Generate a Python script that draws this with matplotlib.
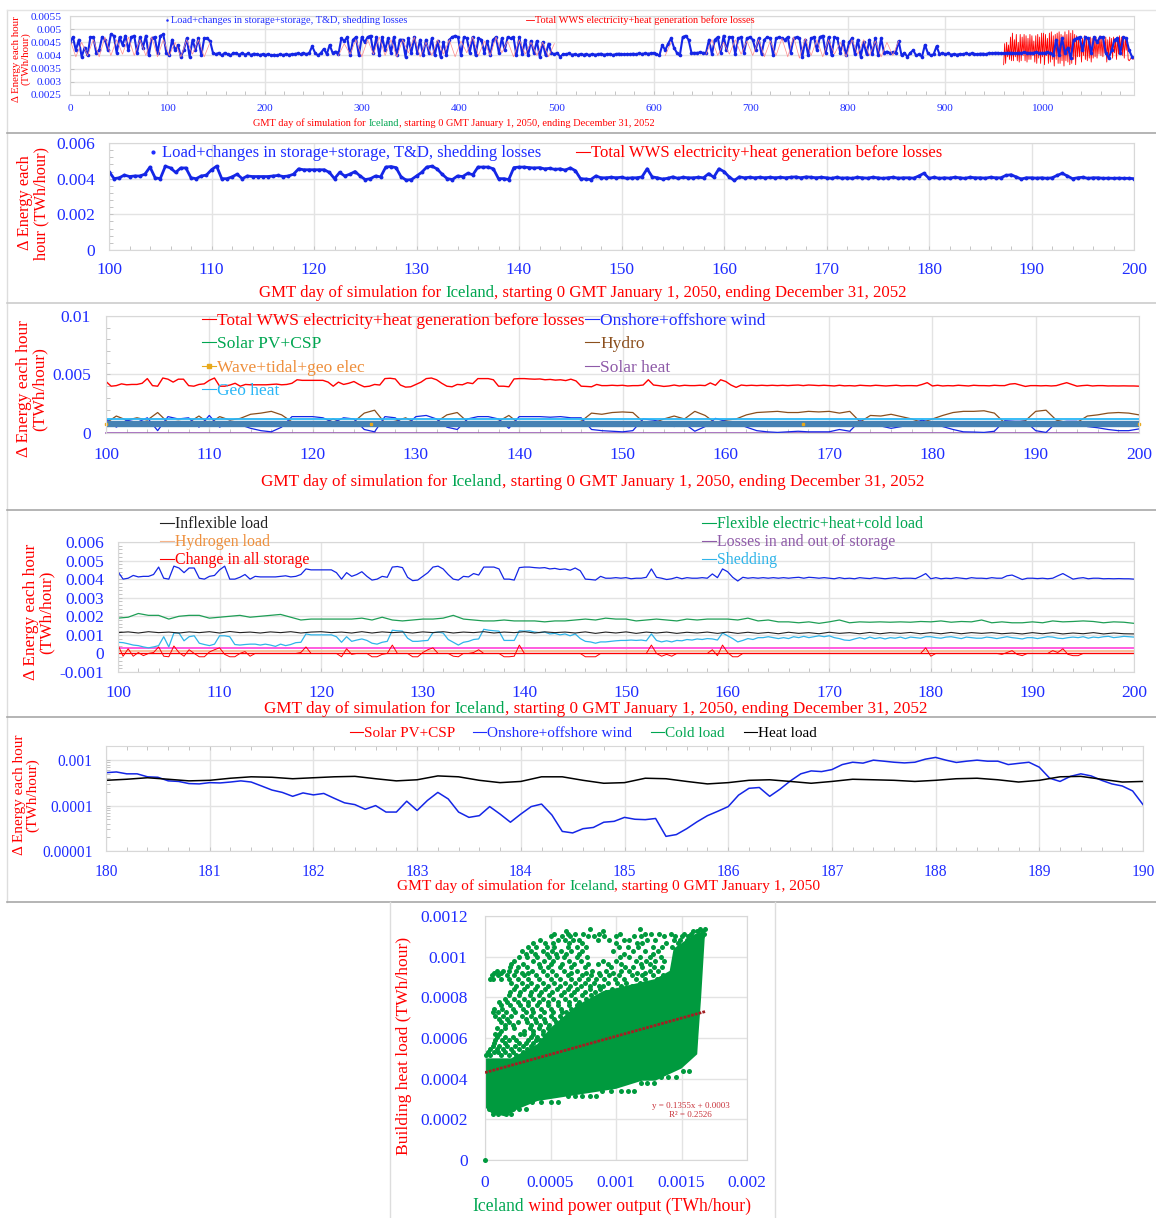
import numpy as np
import matplotlib
matplotlib.use('Agg')
import matplotlib.pyplot as plt
from matplotlib.lines import Line2D
from matplotlib.patches import Polygon

plt.rcParams['font.family'] = ['Liberation Serif', 'DejaVu Serif']

W, H = 1156, 1218
RED = '#ff0000'
BLUE = '#1f2dff'
GREEN = '#00a651'
GRID = '#e3e3e3'

# ---- full 3 year run, one value every 3 days (1e-3 TWh/hour)
load_all = [
    4.5, 4.7, 4.2, 4.6, 3.95, 4.3, 4.0, 4.7, 4.7, 4.1,
    4.2, 4.7, 4.6, 4.2, 4.8, 4.75, 4.1, 4.7, 4.4, 4.75,
    4.2, 4.7, 4.75, 4.1, 4.7, 4.3, 4.75, 4.0, 4.65, 4.7,
    4.1, 4.75, 4.8, 4.1, 4.0, 4.6, 4.2, 4.4, 3.95, 4.2,
    4.65, 3.95, 4.6, 4.2, 4.65, 4.0, 4.65, 4.65, 4.55, 4.1,
    4.05, 4.1, 4.0, 4.1, 4.05, 4.0, 4.1, 4.08, 4.03, 4.1,
    4.03, 4.08, 4.02, 4.07, 4.05, 4.02, 4.05, 4.02, 4.06, 4.0,
    4.03, 4.0, 4.05, 4.02, 4.05, 4.03, 4.05, 4.06, 4.08, 4.05,
    4.1, 4.05, 4.1, 4.35, 4.1, 4.0, 4.1, 4.25, 4.05, 4.4,
    4.1, 4.15, 4.05, 4.65, 4.55, 4.7, 4.0, 4.6, 4.7, 4.0,
    4.7, 4.5, 4.7, 4.75, 4.1, 4.7, 4.0, 4.7, 4.2, 4.65,
    4.1, 4.7, 4.0, 4.6, 4.6, 3.95, 4.65, 4.1, 4.7, 4.1,
    4.6, 4.0, 4.6, 4.1, 4.65, 4.0, 4.55, 3.95, 4.5, 4.0,
    4.6, 4.7, 4.75, 4.7, 4.0, 4.7, 4.65, 4.1, 4.7, 4.0,
    4.65, 4.6, 4.1, 4.55, 4.0, 4.6, 4.7, 4.1, 4.65, 4.2,
    4.7, 4.65, 4.7, 4.0, 4.7, 4.05, 4.6, 4.0, 4.55, 4.1,
    4.55, 3.95, 4.5, 4.0, 4.45, 4.1, 4.05, 4.1, 3.95, 4.05,
    4.05, 4.08, 4.03, 4.05, 4.02, 4.06, 4.03, 4.05, 4.02, 4.06,
    4.03, 4.05, 4.07, 4.03, 4.05, 4.06, 4.02, 4.05, 4.07, 4.05,
    4.04, 4.06, 4.05, 4.07, 4.05, 4.08, 4.06, 4.08, 4.07, 4.08,
    4.1, 4.05, 4.0, 4.4, 4.2, 4.45, 4.65, 4.3, 4.1, 4.0,
    4.7, 4.75, 4.6, 4.1, 4.1, 4.1, 4.12, 4.1, 4.1, 4.6,
    4.05, 4.6, 4.7, 4.1, 4.75, 4.2, 4.7, 4.7, 4.05, 4.65,
    4.7, 4.1, 4.65, 4.7, 4.6, 4.2, 4.65, 4.05, 4.6, 4.7,
    4.65, 4.0, 4.65, 4.7, 4.65, 4.6, 4.7, 4.1, 4.65, 4.7,
    4.65, 3.95, 4.6, 4.0, 4.65, 4.7, 4.2, 4.7, 4.75, 4.1,
    4.7, 4.0, 4.7, 4.65, 4.1, 4.55, 4.0, 4.5, 4.65, 4.05,
    4.6, 3.95, 4.5, 4.05, 4.6, 4.05, 4.65, 4.0, 4.65, 4.1,
    4.15, 4.1, 4.12, 4.1, 4.55, 4.0, 4.1, 3.95, 4.1, 4.2,
    4.0, 4.05, 3.95, 4.4, 4.1, 4.0, 4.05, 4.35, 4.05, 4.1,
    4.05, 4.08, 4.03, 4.06, 4.03, 4.06, 4.05, 4.08, 4.05, 4.08,
    4.06, 4.05, 4.07, 4.07, 4.05, 4.1, 4.08, 4.1, 4.1, 4.08,
    4.08, 4.1, 4.1, 4.1, 4.08, 4.1, 4.1, 4.12, 4.1, 4.1,
    4.1, 4.12, 4.1, 4.1, 4.1, 4.12, 4.1, 4.0, 4.6, 4.0,
    4.65, 4.1, 4.3, 3.9, 4.6, 4.65, 4.7, 4.2, 4.7, 4.65,
    4.1, 4.7, 4.5, 4.7, 4.7, 4.1, 3.9, 4.2, 4.6, 4.65,
    4.1, 4.7, 4.65, 4.2, 3.95,
]

# generation where it shows through the load points, one value every 6 days
gen_all = [
    4.6, 3.95, 4.5, 4.0, 4.6, 3.95, 4.7, 4.0, 4.6, 4.05,
    4.7, 4.0, 4.6, 4.0, 4.7, 3.95, 4.6, 4.0, 4.5, 3.95,
    4.6, 4.05, 4.6, 3.95, 4.5, np.nan, np.nan, np.nan, np.nan, np.nan,
    np.nan, np.nan, np.nan, np.nan, np.nan, np.nan, np.nan, np.nan, np.nan, np.nan,
    np.nan, np.nan, np.nan, np.nan, np.nan, np.nan, 4.0, 4.45, 4.05, 4.6,
    3.95, 4.6, 4.05, 4.7, 4.0, 4.6, 3.95, 4.6, 4.1, 4.7,
    3.95, 4.5, 4.0, 4.6, 4.05, 4.6, 3.95, 4.55, 4.1, 4.7,
    4.0, 4.55, 4.0, 4.7, 4.1, 4.55, 3.95, 4.6, 4.05, 4.5,
    4.0, 4.5, 3.95, 4.45, np.nan, np.nan, np.nan, np.nan, np.nan, np.nan,
    np.nan, np.nan, np.nan, np.nan, np.nan, np.nan, np.nan, np.nan, np.nan, np.nan,
    np.nan, np.nan, 4.0, 4.5, np.nan, np.nan, np.nan, np.nan, np.nan, 4.05,
    4.6, 4.0, 4.5, 4.05, 4.6, 4.05, 4.55, 4.0, 4.6, 3.95,
    4.55, 4.0, 4.65, 3.95, 4.7, 3.9, 4.65, 4.0, 4.6, 3.95,
    4.6, 4.05, 4.5, 3.95, 4.6, 4.05, 4.6, 4.0, 4.55, 3.95,
    4.5, 4.0, 4.55, np.nan, np.nan, np.nan, np.nan, np.nan, np.nan, np.nan,
    np.nan, np.nan, np.nan, np.nan, np.nan, np.nan, np.nan, np.nan, np.nan, np.nan,
]

# day 960 onward, generation is drawn daily
gen_late = [
    3.65, 4.45, 3.7, 4.5, 3.95, 4.4, 3.85, 4.7, 3.8, 4.85,
    3.8, 4.6, 3.95, 4.8, 3.8, 4.5, 3.75, 4.8, 3.8, 4.7,
    4.0, 4.8, 3.8, 4.75, 3.75, 4.65, 3.85, 4.8, 3.85, 4.75,
    4.0, 4.55, 3.75, 4.75, 3.7, 4.8, 3.9, 4.7, 3.7, 4.85,
    3.95, 4.85, 3.65, 4.8, 4.0, 4.65, 3.7, 4.85, 3.75, 4.9,
    3.85, 4.75, 3.6, 4.8, 3.85, 4.85, 3.7, 4.9, 3.7, 4.8,
    3.8, 4.75, 3.6, 4.9, 3.8, 4.8, 3.75, 4.95, 3.65, 4.85,
    3.7, 4.95, 3.85, 4.8, 3.65, 4.75, 3.95, 4.6, 3.95, 4.7,
    3.75, 4.65, 4.0, 4.75, 3.85, 4.7, 3.8, 4.6, 3.9, 4.7,
    3.75, 4.65, 3.9, 4.6, 3.95, 4.7, 3.9, 4.6, 4.05, 4.75,
    4.0, 4.7, 3.95, 4.6, 4.1, 4.7, 3.75, 4.6, 3.9, 4.7,
    4.1, 4.65, 3.9, 4.7, 4.1, 4.6, 3.85, 4.7, 4.05, 4.75,
    4.2, 4.7, 4.0, 4.65, 3.9, 4.7, 4.2, 4.65, 3.85, 3.8,
    3.85, 3.9, 3.95, 3.85, 3.9,
]

# ---- days 100-200 every half day (1e-3 TWh/hour)
total_gen = [
    4.40, 4.00, 4.05, 4.20, 4.12, 4.15, 4.15, 4.25, 4.65, 4.05,
    4.00, 4.70, 4.60, 4.35, 4.60, 4.60, 4.05, 4.00, 4.15, 4.20,
    4.50, 4.70, 4.00, 4.00, 4.10, 4.25, 4.00, 4.15, 4.12, 4.12,
    4.12, 4.12, 4.15, 4.18, 4.12, 4.15, 4.25, 4.55, 4.50, 4.50,
    4.50, 4.50, 4.50, 4.35, 4.00, 4.35, 4.15, 4.25, 4.40, 4.15,
    3.95, 4.00, 4.15, 4.10, 4.65, 4.68, 4.62, 4.10, 3.92, 3.95,
    4.15, 4.35, 4.65, 4.70, 4.55, 4.25, 4.00, 3.95, 4.15, 4.12,
    4.30, 4.22, 4.65, 4.65, 4.65, 4.55, 4.00, 4.00, 3.95, 4.62,
    4.65, 4.65, 4.62, 4.60, 4.62, 4.55, 4.58, 4.52, 4.55, 4.48,
    4.60, 4.45, 4.00, 3.98, 3.95, 4.15, 4.05, 4.05, 4.08, 4.05,
    4.08, 4.02, 4.05, 4.05, 4.10, 4.55, 4.10, 4.05, 3.98, 4.02,
    4.10, 4.02, 4.08, 4.05, 4.05, 4.08, 4.05, 4.28, 4.08, 4.55,
    4.40, 4.10, 3.90, 4.10, 4.05, 4.08, 4.05, 4.08, 4.05, 4.08,
    4.05, 4.08, 4.05, 4.08, 4.10, 4.05, 4.10, 4.08, 4.05, 4.08,
    4.05, 4.02, 4.08, 4.03, 4.05, 4.02, 4.08, 4.05, 4.03, 4.08,
    4.05, 4.02, 4.05, 4.08, 4.03, 4.05, 4.05, 4.03, 4.15, 4.30,
    4.02, 4.08, 4.02, 4.05, 4.03, 4.08, 4.05, 4.02, 4.08, 4.05,
    4.05, 4.03, 4.08, 4.05, 4.05, 4.18, 4.22, 4.10, 3.98, 4.05,
    4.05, 4.03, 4.05, 4.02, 4.05, 4.18, 4.30, 4.15, 4.00, 4.05,
    4.08, 4.02, 4.05, 4.05, 4.02, 4.03, 4.02, 4.03, 4.02, 4.02,
    4.00,
]
shedding = [
    .60, .58, .52, .45, .42, .35, .30, .35, .42, .90,
    .35, 1.10, 1.10, .68, .90, .95, .55, .48, .42, .50,
    .95, .95, .90, .48, .45, .48, .50, .50, .45, .50,
    .45, .38, .50, .42, .48, .58, .60, 1.05, 1.00, 1.00,
    1.00, 1.00, 1.00, .90, .60, .90, .65, .72, .78, .70,
    .55, .50, .60, .65, 1.25, 1.22, 1.20, .82, .65, .65,
    .68, .70, 1.12, 1.15, 1.10, .75, .60, .45, .60, .65,
    .75, .78, 1.30, 1.25, 1.22, 1.20, .70, .70, .70, 1.22,
    1.20, 1.22, 1.15, 1.12, 1.15, 1.05, 1.08, 1.00, 1.05, .95,
    1.05, .80, .65, .62, .55, .62, .62, .65, .68, .70,
    .70, .72, .70, .72, .68, 1.05, .70, .62, .68, .62,
    .70, .68, .75, .72, .78, .75, .80, .78, .72, 1.10,
    .95, .80, .62, .70, .80, .75, .85, .85, .90, .85,
    .80, .85, .80, .90, .85, .92, .85, .90, .95, .90,
    .95, .85, .80, .72, .70, .78, .85, .78, .88, .80,
    .85, .78, .85, .82, .88, .80, .88, .85, .82, .90,
    .90, .85, .82, .88, .90, .85, .80, .88, .85, .82,
    .82, .88, .85, .80, .85, .90, .85, .82, .78, .85,
    .85, .80, .85, .90, .88, .82, .80, .85, .88, .85,
    .90, .82, .88, .85, .90, .92, .85, .88, .92, .90,
    .88,
]
storage_change = [
    .45, -.15, .25, -.15, .05, -.12, 0, .05, .35, -.15,
    -.18, .40, .05, -.15, .20, 0, -.18, -.18, .08, .20,
    .30, -.05, -.18, -.18, 0, .10, -.15, 0, 0, 0,
    0, 0, 0, 0, 0, 0, .05, .35, 0, 0,
    0, 0, 0, 0, -.18, .25, -.05, 0, 0, 0,
    -.18, -.18, -.05, 0, .45, 0, 0, 0, -.18, -.18,
    .05, .20, .30, 0, 0, 0, -.15, -.18, 0, 0,
    .05, .20, 0, 0, 0, 0, -.18, -.18, -.15, .45,
    0, 0, 0, 0, 0, 0, 0, 0, 0, 0,
    0, 0, -.18, -.18, -.18, 0, 0, 0, 0, 0,
    0, 0, 0, 0, 0, .45, 0, -.15, -.05, -.15,
    0, 0, 0, 0, 0, 0, 0, .20, -.12, .45,
    .05, -.18, -.18, 0, 0, 0, 0, 0, 0, 0,
    0, 0, 0, 0, 0, 0, 0, 0, 0, 0,
    0, 0, 0, 0, 0, 0, 0, 0, 0, 0,
    0, 0, 0, 0, 0, 0, 0, 0, 0, .30,
    -.15, 0, 0, 0, 0, 0, 0, 0, 0, 0,
    0, 0, 0, 0, -.05, .05, .15, -.05, -.12, 0,
    0, 0, 0, 0, .15, .05, .25, -.05, -.12, -.12,
    0, 0, 0, 0, 0, 0, 0, 0, 0, 0,
    0,
]

# ---- days 100-200 daily (1e-3 TWh/hour)
onshore_wind = [
    1.20, 0.50, 1.10, 0.90, 1.30, 0.20, 1.40, 1.20, 1.30, 0.50,
    1.50, 0.50, 1.00, 0.70, 0.40, 0.20, 0.10, 0.50, 1.40, 1.40,
    1.40, 1.30, 0.90, 1.30, 1.20, 0.30, 0.10, 1.40, 1.30, 0.60,
    1.40, 1.50, 1.20, 0.50, 0.30, 1.20, 1.40, 1.40, 1.20, 0.40,
    1.40, 1.40, 1.40, 1.35, 1.40, 1.30, 1.30, 0.30, 0.20, 0.15,
    0.10, 0.20, 1.20, 1.10, 0.90, 0.55, 0.80, 0.15, 0.55, 1.25,
    1.00, 0.85, 0.50, 0.20, 0.10, 0.05, 0.10, 0.15, 0.10, 0.10,
    0.10, 0.30, 0.15, 1.05, 0.70, 0.60, 0.40, 0.55, 0.80, 1.10,
    0.85, 0.55, 0.30, 0.10, 0.08, 0.05, 0.15, 1.05, 1.00, 1.00,
    0.20, 0.05, 0.90, 1.00, 1.00, 0.55, 0.45, 0.30, 0.20, 0.20,
    0.35,
]
hydro = [
    0.85, 1.45, 1.10, 1.30, 1.10, 1.75, 0.90, 1.00, 0.90, 1.45,
    0.80, 1.40, 1.10, 1.25, 1.60, 1.70, 1.85, 1.55, 0.95, 0.80,
    0.80, 0.85, 1.20, 0.85, 0.95, 1.70, 1.95, 0.85, 1.00, 1.30,
    0.85, 0.80, 0.95, 1.55, 1.75, 0.95, 0.80, 0.80, 1.00, 1.50,
    0.80, 0.80, 0.80, 0.85, 0.80, 0.85, 1.00, 1.70, 1.60, 1.75,
    1.80, 1.75, 0.95, 0.85, 1.20, 1.45, 1.20, 1.85, 1.50, 0.85,
    1.10, 1.20, 1.55, 1.75, 1.80, 1.85, 1.75, 1.75, 1.85, 1.80,
    1.85, 1.70, 1.85, 0.95, 1.50, 1.45, 1.60, 1.40, 1.20, 0.90,
    1.20, 1.50, 1.75, 1.85, 1.85, 1.90, 1.70, 0.85, 0.90, 1.05,
    1.85, 1.95, 1.10, 0.90, 0.90, 1.45, 1.55, 1.70, 1.75, 1.70,
    1.55,
]
flexible_load = [
    1.90, 1.95, 2.15, 2.05, 2.05, 1.85, 2.00, 2.05, 2.05, 1.90,
    1.95, 2.00, 2.05, 1.95, 2.00, 2.05, 2.10, 1.95, 1.80, 1.85,
    1.85, 1.85, 1.85, 1.85, 1.90, 1.80, 1.95, 1.80, 1.75, 1.80,
    1.85, 1.85, 1.90, 2.05, 1.85, 1.80, 1.75, 1.75, 1.80, 1.75,
    1.75, 1.75, 1.70, 1.75, 1.75, 1.80, 1.85, 1.80, 1.90, 1.85,
    1.85, 1.75, 1.80, 1.85, 1.80, 1.75, 1.85, 1.80, 1.85, 1.85,
    1.85, 1.80, 1.90, 1.75, 1.80, 1.70, 1.70, 1.65, 1.70, 1.62,
    1.70, 1.80, 1.65, 1.70, 1.68, 1.70, 1.68, 1.70, 1.68, 1.72,
    1.70, 1.75, 1.68, 1.72, 1.70, 1.80, 1.65, 1.70, 1.65, 1.65,
    1.70, 1.65, 1.75, 1.70, 1.72, 1.75, 1.72, 1.65, 1.70, 1.68,
    1.62,
]
inflexible_load = [
    1.12, 1.16, 1.10, 1.17, 1.12, 1.15, 1.10, 1.16, 1.12, 1.17,
    1.10, 1.18, 1.12, 1.15, 1.10, 1.16, 1.12, 1.17, 1.10, 1.15,
    1.17, 1.12, 1.15, 1.10, 1.17, 1.10, 1.16, 1.12, 1.15, 1.10,
    1.16, 1.12, 1.17, 1.10, 1.15, 1.12, 1.17, 1.10, 1.15, 1.12,
    1.17, 1.10, 1.16, 1.12, 1.15, 1.10, 1.16, 1.08, 1.15, 1.10,
    1.16, 1.08, 1.15, 1.10, 1.15, 1.08, 1.14, 1.10, 1.15, 1.08,
    1.15, 1.08, 1.14, 1.08, 1.13, 1.06, 1.14, 1.08, 1.12, 1.06,
    1.14, 1.08, 1.12, 1.06, 1.13, 1.06, 1.12, 1.08, 1.13, 1.06,
    1.12, 1.06, 1.13, 1.06, 1.12, 1.08, 1.12, 1.06, 1.10, 1.05,
    1.12, 1.06, 1.12, 1.05, 1.10, 1.06, 1.12, 1.05, 1.10, 1.06,
    1.05,
]
# flat lines in the source mix (1e-3 TWh/hour)
wave_level = [0.78] * 2
geo_heat_level = [1.22] * 2
solar_heat_level = [0.03] * 2
solar_pv_level = [0.80] * 2
pink_level = [0.30] * 2
hydrogen_level = [0.14] * 2
zero_level = [0.0] * 2
wave_marker_days = [100, 125.7, 167.5, 200]
range_days = [100, 200]

# ---- days 180-190 (1e-4 TWh/hour)
wind_zoom = [
    5.3, 5.5, 5.0, 5.0, 4.3, 4.2, 3.5, 3.4, 3.05, 3.0,
    3.2, 3.15, 3.3, 3.5, 3.3, 2.7, 2.2, 1.95, 1.6, 1.9,
    1.72, 1.85, 1.45, 1.15, 1.05, .83, 1.0, .72, .72, 1.25,
    .78, 1.3, 1.95, 1.4, .72, .55, .6, .95, .65, .43,
    .65, .95, 1.08, .62, .27, .25, .31, .33, .43, .45,
    .55, .50, .49, .52, .21, .23, .31, .44, .6, .75,
    .95, 1.7, 2.4, 2.5, 1.6, 2.3, 3.5, 5.0, 5.8, 5.6,
    6.2, 8.0, 9.0, 8.6, 10.0, 9.5, 9.0, 8.7, 9.0, 10.5,
    11.5, 10.0, 8.9, 9.5, 10.0, 9.5, 9.5, 8.0, 8.5, 9.0,
    7.0, 4.0, 3.4, 4.4, 5.0, 4.5, 3.6, 3.0, 2.7, 2.1,
    1.05,
]
heat_zoom = [
    3.6, 3.8, 4.1, 3.8, 3.5, 3.6, 4.0, 4.3, 4.2, 3.9,
    4.1, 4.3, 4.4, 3.9, 3.5, 3.7, 4.5, 4.3, 3.6, 3.2,
    3.4, 4.3, 4.3, 3.6, 3.1, 3.2, 4.0, 3.9, 3.4, 3.0,
    3.2, 3.6, 3.7, 3.4, 3.1, 3.4, 3.8, 3.7, 3.6, 3.4,
    3.6, 3.9, 4.0, 3.7, 3.3, 3.6, 4.3, 4.4, 3.8, 3.3,
    3.4,
]

# ---- wind against heat load, 1e-4 TWh/hour, points listed by heat level
scatter_rows = {
    11.35: [8.0, 11.8, 16.4, 16.8],
    11.25: [15.9, 16.2, 16.6, 9.0, 6.2],
    11.1: [5.3, 6.3, 6.9, 7.5, 8.7, 10.3, 12.2, 12.7, 13.3, 14.2, 15.2, 15.7, 16.3, 16.7],
    11.0: [5.0, 5.9, 6.5, 7.9, 8.3, 9.1, 10.0, 11.4, 11.9, 13.7, 14.5, 15.0, 15.5, 16.1, 16.6],
    10.8: [4.2, 5.6, 6.1, 6.7, 7.2, 8.6, 9.5, 10.6, 11.0, 12.4, 13.0, 14.4, 14.9, 15.4, 16.0],
    10.65: [3.7, 4.6, 5.2, 6.4, 7.4, 10.0, 11.6, 12.0, 13.8, 14.7],
    10.5: [3.3, 3.9, 4.7, 5.3, 6.3, 7.0, 7.7, 10.2, 10.9, 11.7, 12.8, 13.5, 14.3],
    10.3: [2.8, 3.5, 4.4, 5.1, 5.8, 6.6, 7.4, 9.8, 11.3, 12.2, 13.2],
    10.15: [3.1, 3.8, 4.7, 5.4, 6.2, 7.2, 10.6, 12.8],
    10.0: [2.6, 3.2, 4.0, 4.9, 5.5, 6.0, 7.0, 7.8, 10.3, 11.0, 11.8, 12.6, 13.4],
    9.8: [2.2, 3.7, 4.5, 5.2, 6.4, 7.3, 9.0, 10.0, 11.5, 12.3, 13.0, 13.7],
    9.65: [2.0, 2.9, 4.1, 5.0, 5.9, 6.8, 7.9, 8.6, 9.4, 10.4, 11.9, 12.6],
    9.5: [1.9, 2.5, 3.2, 4.2, 4.8, 5.7, 6.6, 7.6, 9.6, 10.7, 11.3, 12.0, 12.9, 13.5],
    9.3: [0.9, 1.4, 1.8, 2.4, 3.6, 4.4, 5.1, 6.0, 7.0, 8.2, 9.2, 10.4, 11.0, 12.6, 13.2],
    9.2: [0.7, 1.2, 2.8, 3.3, 6.6, 7.7, 8.7, 9.8, 11.6, 12.2],
    9.1: [0.5, 1.0, 1.7, 2.2, 3.0, 3.9, 4.7, 5.4, 6.3, 7.4, 8.1, 8.8, 9.5, 10.2, 11.2, 12.0, 12.8, 13.6],
    8.9: [0.4, 0.6, 1.2, 1.8, 2.5, 3.3, 4.1, 5.0, 5.7, 6.6, 7.2, 7.9, 8.5, 9.1, 9.9, 10.6, 11.5, 12.2, 13.1],
    8.7: [2.0, 2.8, 3.5, 4.4, 5.3, 6.1, 6.9, 7.6, 8.3, 9.4, 10.1, 10.8, 11.8, 12.5, 13.5],
    8.55: [2.4, 3.2, 4.0, 4.8, 5.7, 6.5, 7.3, 8.0, 8.7, 9.0, 10.4, 11.2],
    8.4: [2.2, 3.0, 3.8, 4.6, 5.5, 6.3, 7.0, 8.0, 8.8, 9.7, 10.4, 11.0, 11.6],
    8.25: [1.9, 2.7, 3.5, 4.3, 5.1, 6.0, 6.8, 7.6, 8.4, 9.2, 10.0],
    8.1: [1.8, 2.6, 3.4, 4.1, 4.9, 5.8, 6.6, 7.4, 8.1, 8.9, 9.6],
    7.9: [1.5, 2.2, 3.0, 3.7, 4.4, 5.2, 6.1, 6.9, 7.7, 8.5],
    7.75: [1.1, 1.7, 2.5, 3.3, 4.1, 4.8, 5.6, 6.4, 7.2],
    7.6: [1.2, 1.9, 2.7, 3.3, 4.0, 4.8, 5.6, 6.4, 7.0],
    7.45: [0.7, 1.3, 2.1, 2.9, 3.6, 4.3, 5.0, 5.8, 6.6],
    7.3: [0.6, 1.0, 1.6, 2.3, 3.1, 3.7, 4.5, 5.2, 5.9, 6.2],
    7.1: [0.8, 1.4, 2.0, 2.8, 3.5, 4.2, 5.0, 5.7],
    6.95: [1.1, 1.7, 3.1, 3.8, 4.5, 5.3, 5.9],
    6.8: [1.2, 1.8, 2.5, 3.2, 3.9, 4.6, 5.4],
    6.65: [1.5, 2.1, 3.5, 4.2, 4.9, 5.6],
    6.5: [0.9, 1.5, 2.2, 3.4, 4.1, 4.8],
    6.35: [1.2, 3.0, 3.7, 4.4, 5.1],
    6.2: [0.8, 1.1, 2.7, 3.0, 3.7, 4.4, 5.0],
    6.05: [0.9, 1.5, 2.1, 3.5, 4.0, 4.6],
    5.9: [0.8, 1.3, 1.8, 2.4, 3.3, 3.9, 4.2],
    5.75: [0.7, 1.5, 2.6, 3.1, 3.7],
    5.6: [0.6, 1.1, 1.7, 2.3, 2.9, 3.5],
    5.45: [0.4, 0.9, 1.4, 2.0, 2.6, 3.2],
    5.3: [0.2, 0.7, 1.0, 1.5, 2.1, 2.9],
    5.15: [0.1, 0.4, 1.2, 1.8, 2.4],
    4.4: [15.6, 15.1],
    4.1: [14.6, 14.0, 13.4],
    3.8: [12.9, 12.4, 11.9],
    3.4: [10.4, 10.9, 11.4, 8.9, 9.6],
    3.15: [7.4, 8.0, 8.5, 6.3, 6.9],
    2.85: [3.6, 4.3, 5.0, 5.6],
    2.5: [0.3, 2.1, 2.6, 3.1],
    2.25: [0.6, 1.0, 1.6, 2.0],
    0.0: [0.0],
}
# where the points merge into solid colour, outline
solid_x = [0, 0.5, 1.5, 2.5, 4, 6, 8, 10, 12, 13, 15, 16.2, 16.3, 16.5, 16.8, 16.0, 14.4, 14.1, 13, 11, 9, 7, 5, 4, 2, 0]
solid_y = [2.6, 2.3, 2.15, 2.5, 2.9, 3.1, 3.3, 3.5, 3.9, 3.9, 4.5, 5.2, 6.2, 8, 11.2, 11.1, 10.4, 9.3, 8.9, 8.6, 8.3, 7.6, 6.5, 5.7, 5, 5.0]
trend_x = [0, 0.00168]
trend_y = [0.00043, 0.00073]

iceland_tail = ', starting 0 GMT January 1, 2050, ending December 31, 2052'
fig = plt.figure(figsize=(W/100, H/100), dpi=100, facecolor='white')


def make_axes(left, right, top, bottom, xpad=9, ypad=10):
    ax = fig.add_axes([left/W, 1-bottom/H, (right-left)/W, (bottom-top)/H])
    ax.grid(True, which='major', color=GRID, lw=1.0)
    ax.set_axisbelow(True)
    for spine in ax.spines.values():
        spine.set_color('#d8d8d8')
    ax.tick_params(which='both', direction='in', color='#c4c4c4', length=3, width=0.7, labelcolor=BLUE)
    ax.tick_params(axis='x', which='major', pad=xpad)
    ax.tick_params(axis='y', which='major', pad=ypad)
    return ax


def set_ticks(ax, xticks, yticks, ylabels, size, xminor=None):
    ax.set_xticks(xticks)
    ax.set_xticklabels([str(t) for t in xticks], fontsize=size)
    ax.set_yticks(yticks)
    ax.set_yticklabels(ylabels, fontsize=size)
    if xminor is not None:
        ax.set_xticks(xminor, minor=True)


def color_text(x, y, pieces, size):
    renderer = fig.canvas.get_renderer()
    base = y + 0.45*size
    for words, color in pieces:
        text = fig.text(x/W, 1-base/H, words, color=color, fontsize=size, va='baseline', ha='left')
        x += text.get_window_extent(renderer).width


def day_label(x, y, tail, size):
    color_text(x, y, [('GMT day of simulation for ', RED), ('Iceland', GREEN), (tail, RED)], size)


def legend_item(x0, x1, y, label, color, size, textcolor=None, lw=0.8):
    fig.add_artist(Line2D([x0/W, x1/W], [1-y/H, 1-y/H], color=color, lw=lw))
    base = y + 0.45*size
    fig.text((x1+1)/W, 1-base/H, label, color=textcolor or color, fontsize=size, va='baseline', ha='left')


def y_label(x, y, words, size):
    fig.text(x/W, 1-y/H, words, color=RED, fontsize=size, rotation=90, va='center', ha='center', linespacing=1.0)


def separator(y, color='#a8a8a8', x0=7, x1=1156, lw=1.2):
    fig.add_artist(Line2D([x0/W, x1/W], [1-y/H, 1-y/H], color=color, lw=lw))


half_days = 100 + 0.5*np.arange(len(total_gen))
whole_days = 100 + np.arange(len(onshore_wind))
total_values = np.array(total_gen)*1e-3

# panel 1
ax = make_axes(70, 1134, 16, 95, xpad=6.7, ypad=6)
ax.set_xlim(0, 1094)
ax.set_ylim(0.0025, 0.0055)
set_ticks(ax, list(range(0, 1001, 100)), [0.0025, 0.003, 0.0035, 0.004, 0.0045, 0.005, 0.0055],
          ['0.0025', '0.003', '0.0035', '0.004', '0.0045', '0.005', '0.0055'], 8.2, list(range(0, 1094, 20)))
ax.plot(960 + np.arange(len(gen_late)), np.array(gen_late)*1e-3, color=RED, lw=0.6)
ax.plot(3*np.arange(len(load_all)), np.array(load_all)*1e-3, color='#1426e6', lw=1.5, marker='o', ms=2.6, mew=0)
ax.plot(6*np.arange(len(gen_all)), np.array(gen_all)*1e-3, color='#ff8a8a', lw=0.5)
fig.add_artist(Line2D([167/W], [1-20/H], color=BLUE, marker='o', ms=0.8, ls=''))
fig.text(171/W, 1-23.3/H, 'Load+changes in storage+storage, T&D, shedding losses', color=BLUE, fontsize=7.45, va='baseline')
legend_item(526, 534, 20, 'Total WWS electricity+heat generation before losses', RED, 7.45, lw=0.6)
y_label(21, 59, '\u0394 Energy each hour\n(TWh/hour)', 7.8)
day_label(253, 123, iceland_tail, 7.5)

# panel 2
ax = make_axes(109, 1134, 143, 250, xpad=8.8)
ax.set_xlim(100, 200)
ax.set_ylim(0, 0.006)
set_ticks(ax, list(range(100, 201, 10)), [0, 0.002, 0.004, 0.006], ['0', '0.002', '0.004', '0.006'], 12.5, list(range(100, 201, 2)))
ax.set_yticks(np.arange(0, 0.006, 0.0004), minor=True)
ax.plot(half_days, total_values, color='#1426e6', lw=2.0, marker='o', ms=2.8, mew=0)
fig.add_artist(Line2D([153/W], [1-152/H], color=BLUE, marker='o', ms=2, ls=''))
fig.text(162/W, 1-157.4/H, 'Load+changes in storage+storage, T&D, shedding losses', color=BLUE, fontsize=12, va='baseline')
legend_item(576, 590, 152, 'Total WWS electricity+heat generation before losses', RED, 12)
y_label(33, 203, '\u0394 Energy each\nhour (TWh/hour)', 11.8)
day_label(259, 292, iceland_tail, 12.03)

# panel 3
ax = make_axes(106, 1139, 316, 433, xpad=10.3, ypad=11)
ax.set_xlim(100, 200)
ax.set_ylim(0, 0.01)
set_ticks(ax, list(range(100, 201, 10)), [0, 0.005, 0.01], ['0', '0.005', '0.01'], 12.5, list(range(100, 201, 2)))
ax.set_yticks(np.arange(0, 0.01, 0.001), minor=True)
ax.plot(range_days, np.array(solar_heat_level)*1e-3, color='#9b59b6', lw=1.2, clip_on=False)
ax.plot(half_days, total_values, color=RED, lw=1.0)
ax.plot(whole_days, np.array(hydro)*1e-3, color='#8b4f1d', lw=0.9)
ax.plot(whole_days, np.array(onshore_wind)*1e-3, color='#1426e6', lw=0.9)
ax.plot(range_days, np.array(geo_heat_level)*1e-3, color='#29b6f6', lw=1.3)
ax.plot(range_days, np.array(solar_pv_level)*1e-3, color=GREEN, lw=1.0)
ax.plot(range_days, np.array(wave_level)*1e-3, color='#4682b4', lw=4.6, solid_capstyle='butt')
ax.plot(wave_marker_days, np.array(wave_level*2)*1e-3, color='#e8a91b', ls='', marker='s', ms=1.8, clip_on=False)
legend_item(202, 216, 319, 'Total WWS electricity+heat generation before losses', RED, 12.5)
legend_item(585, 599, 319, 'Onshore+offshore wind', BLUE, 12.5)
legend_item(202, 216, 342, 'Solar PV+CSP', GREEN, 12.5)
legend_item(585, 599, 342, 'Hydro', '#8b4f1d', 12.5)
legend_item(202, 216, 366, 'Wave+tidal+geo elec', '#e8a91b', 12.5, textcolor='#ee8f3c')
fig.add_artist(Line2D([209/W], [1-366/H], color='#e8a91b', marker='s', ms=3, ls=''))
legend_item(585, 599, 366, 'Solar heat', '#8e5aa8', 12.5)
legend_item(202, 216, 389, 'Geo heat', '#29b6f6', 12.5)
y_label(32, 389, '\u0394 Energy each hour\n(TWh/hour)', 12.5)
day_label(261, 480, iceland_tail, 12.37)

# panel 4
ax = make_axes(118, 1134, 542, 672, xpad=9.6)
ax.set_xlim(100, 200)
ax.set_ylim(-0.001, 0.006)
set_ticks(ax, list(range(100, 201, 10)), [-0.001, 0, 0.001, 0.002, 0.003, 0.004, 0.005, 0.006],
          ['-0.001', '0', '0.001', '0.002', '0.003', '0.004', '0.005', '0.006'], 12.5, list(range(100, 201, 2)))
ax.set_yticks(np.arange(-0.001, 0.006, 0.0002), minor=True)
ax.plot(range_days, np.array(hydrogen_level)*1e-3, color='#f6b48a', lw=1.2)
ax.plot(range_days, np.array(pink_level)*1e-3, color='#ff5ce0', lw=1.4)
ax.plot(half_days, np.array(shedding)*1e-3, color='#2fb4e9', lw=0.9)
ax.plot(whole_days, np.array(inflexible_load)*1e-3, color='#222222', lw=0.8)
ax.plot(whole_days, np.array(flexible_load)*1e-3, color='#1e9e55', lw=0.9)
ax.plot(half_days, total_values, color='#1426e6', lw=0.9)
ax.plot(range_days, np.array(zero_level)*1e-3, color=RED, lw=0.9)
ax.plot(half_days, np.array(storage_change)*1e-3, color=RED, lw=0.7)
legend_item(160, 174, 523, 'Inflexible load', '#222222', 11.4)
legend_item(160, 174, 541, 'Hydrogen load', '#f6b48a', 11.4, textcolor='#ee8f3c')
legend_item(160, 174, 559, 'Change in all storage', RED, 11.4)
legend_item(702, 716, 523, 'Flexible electric+heat+cold load', GREEN, 11.4)
legend_item(702, 716, 541, 'Losses in and out of storage', '#8e5aa8', 11.4)
legend_item(702, 716, 559, 'Shedding', '#2fb4e9', 11.4)
y_label(39, 612, '\u0394 Energy each hour\n(TWh/hour)', 12.4)
day_label(264, 707, iceland_tail, 12.37)

# panel 5
ax = make_axes(106, 1143, 746, 851, xpad=9.6, ypad=9.6)
ax.set_xlim(180, 190)
ax.set_yscale('log')
ax.set_ylim(1e-5, 0.00205)
set_ticks(ax, list(range(180, 191)), [1e-5, 1e-4, 1e-3], ['0.00001', '0.0001', '0.001'], 11.2,
          np.arange(180, 190.01, 0.2))
ax.tick_params(axis='x', which='both', top=True, direction='in')
ax.plot(180 + 0.1*np.arange(len(wind_zoom)), np.array(wind_zoom)*1e-4, color='#1426e6', lw=1.1)
ax.plot(180 + 0.2*np.arange(len(heat_zoom)), np.array(heat_zoom)*1e-4, color='black', lw=1.1)
legend_item(350, 363, 732, 'Solar PV+CSP', RED, 11)
legend_item(473, 486, 732, 'Onshore+offshore wind', BLUE, 11)
legend_item(651, 664, 732, 'Cold load', GREEN, 11)
legend_item(744, 757, 732, 'Heat load', 'black', 11)
y_label(26, 795, '\u0394 Energy each hour\n(TWh/hour)', 11)
day_label(397, 885, ', starting 0 GMT January 1, 2050', 11.08)

# panel 6
ax = make_axes(485, 747, 916, 1160, xpad=10.7, ypad=12.5)
ax.set_xlim(0, 0.002)
ax.set_ylim(0, 0.0012)
set_ticks(ax, [0, 0.0005, 0.001, 0.0015, 0.002], [0, 0.0002, 0.0004, 0.0006, 0.0008, 0.001, 0.0012],
          ['0', '0.0002', '0.0004', '0.0006', '0.0008', '0.001', '0.0012'], 12.5)
ax.set_xticklabels(['0', '0.0005', '0.001', '0.0015', '0.002'], fontsize=12.5)
ax.tick_params(length=0)
ax.add_patch(Polygon(np.column_stack([solid_x, solid_y])*1e-4, closed=True, color='#009a3e', lw=0, zorder=2))
wind_points = [x*1e-4 for level, row in scatter_rows.items() for x in row]
heat_points = [level*1e-4 for level, row in scatter_rows.items() for x in row]
ax.scatter(wind_points, heat_points, s=13, color='#009a3e', linewidths=0, zorder=3, clip_on=False)
ax.plot(trend_x, trend_y, color='#a31e22', lw=2.0, ls=(0, (1, 0.4)), zorder=4)
ax.text(0.00157, 0.000245, 'y = 0.1355x + 0.0003\nR\u00b2 = 0.2526', color='#c8323a', fontsize=6.5, ha='center', va='center')
y_label(404, 1046, 'Building heat load (TWh/hour)', 12.6)
color_text(472, 1205, [('Iceland', GREEN), (' wind power output (TWh/hour)', RED)], 12.7)

# frame lines round the panels
fig.add_artist(Line2D([7/W, 7/W], [1-10/H, 1-902/H], color='#dddddd', lw=1))
separator(10, color='#e4e4e4', lw=1)
separator(133)
separator(303, color='#cccccc')
separator(510)
separator(717)
separator(902)
fig.add_artist(Line2D([390/W, 390/W], [1-902/H, 0], color='#dddddd', lw=1))
fig.add_artist(Line2D([775/W, 775/W], [1-902/H, 0], color='#dddddd', lw=1))

fig.savefig('out.png', dpi=100)
